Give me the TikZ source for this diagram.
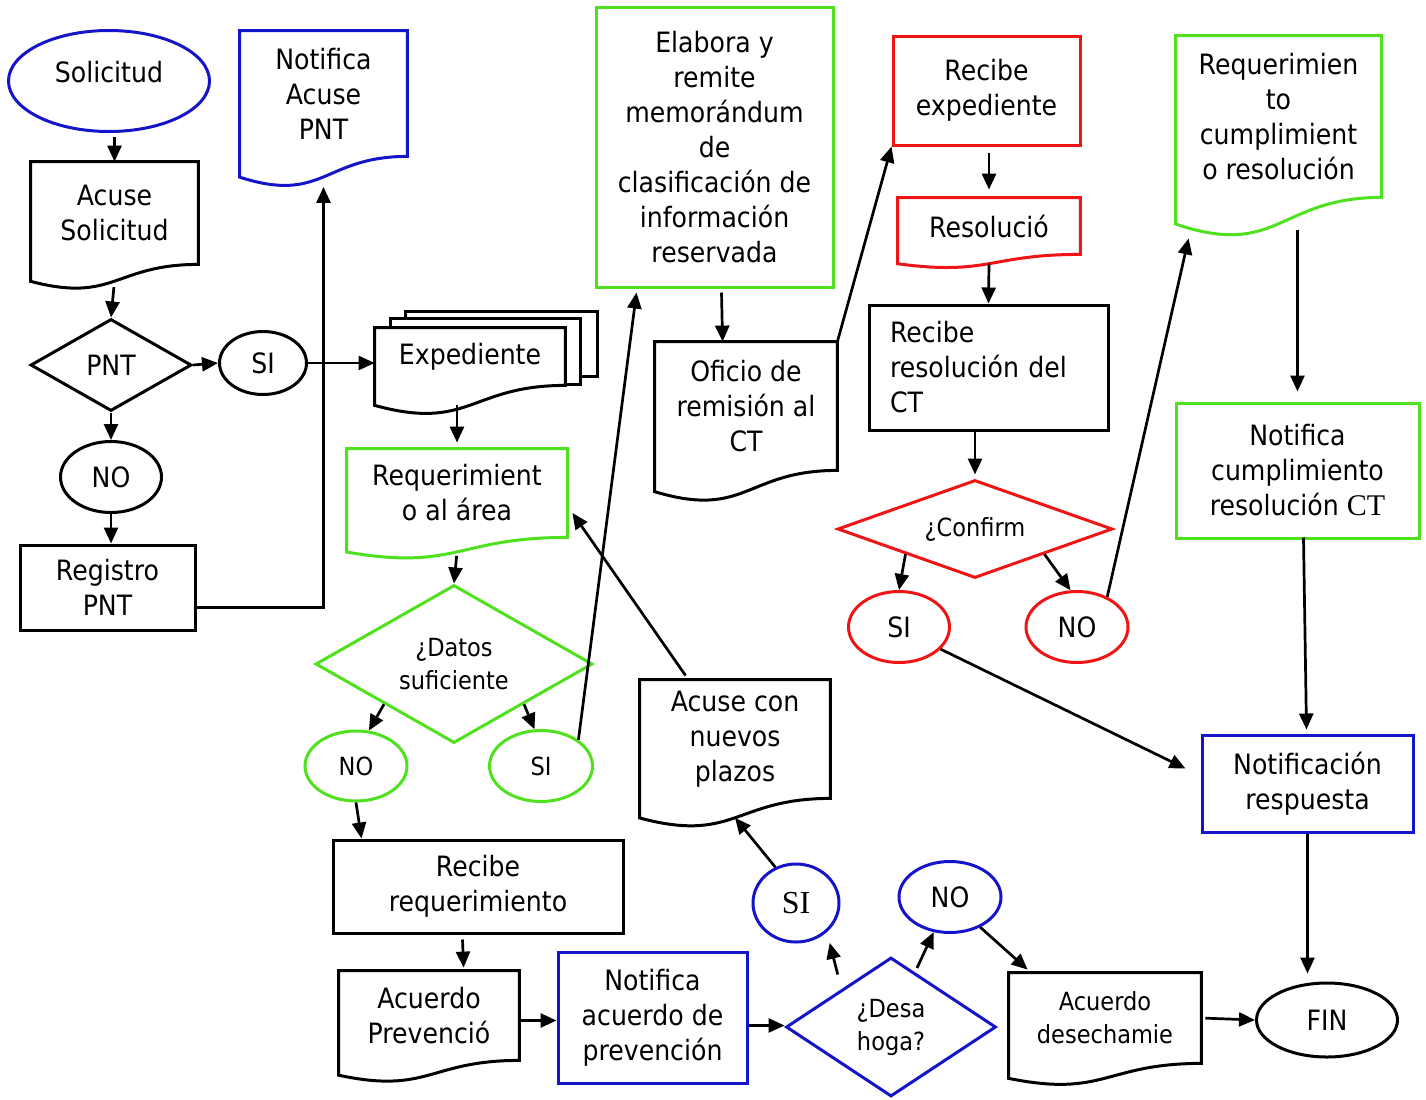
\documentclass[tikz,border=0pt]{standalone}
\usepackage{fontspec}
\setmainfont{DejaVu Sans}[FakeStretch=0.9]
\newfontfamily\tnr{Liberation Serif}
\usepackage{tikz}
\usetikzlibrary{shapes.geometric,arrows.meta,calc}
\usepackage{xcolor}
\definecolor{azul}{RGB}{20,20,200}
\definecolor{rojo}{RGB}{240,20,20}
\definecolor{verde}{RGB}{80,225,30}

\newcommand{\docshape}[3][1]{%
\draw[line width=1.5pt, draw=#3] (#2.north west) -- (#2.north east) -- (#2.south east)
  .. controls (#2.south) and ($(#2.north)!{1+0.380*#1}!(#2.south)$)
  .. ($(#2.north west)!{1+0.1646*#1}!(#2.south west)$) -- cycle;
\coordinate (#2-b) at ($(#2.north)!{1+0.163*#1}!(#2.south)$);
}

\begin{document}
\begin{tikzpicture}[x=0.5pt, y=-0.5pt,
  every node/.style={font=\fontsize{14}{17.5}\selectfont, align=center, inner sep=0pt},
  bx/.style={draw, rectangle, line width=1.5pt},
  ovl/.style={draw, ellipse, line width=1.5pt},
  rmb/.style={draw, diamond, line width=1.5pt, aspect=1.7},
  dc/.style={rectangle},
  sm/.style={font=\fontsize{12.5}{16.5}\selectfont},
  arr/.style={-{Triangle[length=8pt,width=7pt]}, line width=1.35pt}]
\useasboundingbox (0,0) rectangle (1426,1099);

\node[ovl, draw=azul, text depth=9pt, minimum width=100.5pt, minimum height=50.5pt] (sol) at (109,81) {Solicitud};
\node[dc, minimum width=83.5pt, minimum height=51pt] (acs) at (114.5,213) {Acuse\\Solicitud};
\node[dc, minimum width=83.5pt, minimum height=62.5pt] (nap) at (323.5,93.5) {Notifica\\Acuse\\PNT};
\node[rmb, minimum width=80.5pt, minimum height=46pt] (pnt) at (111,365) {PNT};
\node[ovl, minimum width=43.5pt, minimum height=31.5pt] (si1) at (263,363) {SI};
\node[ovl, minimum width=50.5pt, minimum height=35.5pt] (no1) at (111,477) {NO};
\node[bx, minimum width=87.5pt, minimum height=42.5pt] (reg) at (107.5,587.5) {Registro\\PNT};
\node[dc, minimum width=95pt, minimum height=28.5pt] (exp) at (470,356.5) {Expediente};
\node[dc, minimum width=110pt, minimum height=44pt] (req) at (457,493) {Requerimient\\o al área};
\node[rmb, sm, draw=verde, minimum width=138.5pt, minimum height=79pt] (dat) at (454,664) {¿Datos\\suficiente};
\node[ovl, sm, draw=verde, minimum width=51pt, minimum height=35pt] (no2) at (356,766) {NO};
\node[ovl, sm, draw=verde, minimum width=51.5pt, minimum height=35.5pt] (si2) at (541,766) {SI};
\node[bx, minimum width=145pt, minimum height=46.5pt] (rrq) at (478,886.5) {Recibe\\requerimiento};
\node[dc, minimum width=90pt, minimum height=44.5pt] (apv) at (429,1015.5) {Acuerdo\\Prevenció};
\node[bx, draw=azul, minimum width=94.5pt, minimum height=65.5pt] (nac) at (652.5,1017.5) {Notifica\\acuerdo de\\prevención};
\node[rmb, sm, draw=azul, minimum width=105pt, minimum height=69.5pt] (des) at (891,1027) {¿Desa\\hoga?};
\node[ovl, draw=azul, font=\tnr\fontsize{16}{18}\selectfont, minimum width=43pt, minimum height=39pt] (si3) at (796,903) {SI};
\node[ovl, draw=azul, minimum width=51pt, minimum height=35.5pt] (no3) at (950,897) {NO};
\node[dc, sm, minimum width=96pt, minimum height=45pt] (ads) at (1105,1018) {Acuerdo\\desechamie};
\node[ovl, minimum width=70.5pt, minimum height=37pt] (fin) at (1327,1020) {FIN};
\node[dc, minimum width=95pt, minimum height=59pt] (acn) at (735,739) {Acuse con\\nuevos\\plazos};
\node[bx, draw=verde, minimum width=118.5pt, minimum height=140pt] (ela) at (714.5,147) {Elabora y\\remite\\memorándum\\de\\clasificación de\\información\\reservada};
\node[dc, minimum width=91pt, minimum height=64pt] (ofi) at (746,406) {Oficio de\\remisión al\\CT};
\node[bx, draw=rojo, minimum width=93.5pt, minimum height=54.5pt] (rex) at (986.5,90.5) {Recibe\\expediente};
\node[dc, minimum width=91pt, minimum height=28pt] (res) at (989,226) {Resolució};
\node[bx, align=left, text width=98.5pt, inner xsep=10.5pt, minimum height=62.5pt] (rct) at (988.5,367.5) {Recibe\\resolución del\\CT};
\node[rmb, sm, draw=rojo, minimum width=137.5pt, minimum height=49pt] (cnf) at (975,529) {¿Confirm};
\node[ovl, draw=rojo, minimum width=50.5pt, minimum height=35.5pt] (si4) at (899,627) {SI};
\node[ovl, draw=rojo, minimum width=51pt, minimum height=35.5pt] (no4) at (1077,627) {NO};
\node[dc, minimum width=102.5pt, minimum height=80.5pt] (rcu) at (1278.5,116.5) {Requerimien\\to\\cumplimient\\o resolución};
\node[bx, draw=verde, minimum width=121.5pt, minimum height=67.5pt] (ncu) at (1297.5,470.5) {Notifica\\cumplimiento\\resolución {\tnr\fontsize{15}{17.5}\selectfont CT}};
\node[bx, draw=azul, minimum width=105.5pt, minimum height=48.5pt] (nre) at (1307.5,783.5) {Notificación\\respuesta};

\docshape{acs}{black}
\docshape{nap}{azul}
\docshape[2.1]{exp}{black}
\draw[line width=1.5pt] ($(exp.north west)+(16,0)$) -- ++(0,-9) -- ($(exp.north east)+(15,-9)$) -- ++(0,66) -- ++(-15,0);
\draw[line width=1.5pt] ($(exp.north west)+(31,-9)$) -- ++(0,-7) -- ($(exp.north east)+(32,-16)$) -- ++(0,65) -- ++(-17,0);
\docshape{req}{verde}
\docshape{apv}{black}
\docshape{ads}{black}
\docshape{acn}{black}
\docshape{ofi}{black}
\docshape{res}{rojo}
\docshape{rcu}{verde}

\coordinate (apv-e) at ($(apv.east)+(0,5)$);
\coordinate (nac-e) at ($(nac.east)+(0,8)$);

\draw[arr, shorten <=2pt] (acs.north |- sol.south) -- (acs.north);
\draw[arr, shorten <=3pt] (acs-b) -- (pnt.north);
\draw[arr] (pnt.east) -- (si1.west);
\draw[arr] (pnt.south) -- (no1.north);
\draw[arr] (no1.south) -- (no1.south |- reg.north);
\draw[arr, shorten >=5pt] ($(reg.east)+(0,20)$) -| (nap-b);
\draw[arr] (si1.east) -- (si1.east -| exp.west);
\draw[arr, shorten >=3pt] (exp-b -| req.north) -- (req.north);
\draw[arr, shorten <=2pt] (req-b) -- (dat.north);
\draw[arr] (dat.south west) -- (no2.70);
\draw[arr] (dat.south east) -- (si2.100);
\draw[arr] (si2.35) -- ($(ela.south west)+(42,4)$);
\draw[arr] (no2.south) -- ($(rrq.north west)+(30,0)$);
\draw[arr] ($(rrq.south west)+(131,5)$) -- ($(apv.north west)+(125,-3)$);
\draw[arr] (apv-e) -- (apv-e -| nac.west);
\draw[arr] (nac-e) -- (nac-e -| des.west);
\draw[arr] ($(des.north west)+(0,-17)$) -- ($(si3.-60)+(13,4)$);
\draw[arr] ($(des.north)+(26,12)$) -- (no3.-115);
\draw[arr] (si3.120) -- (acn-b);
\draw[arr] ($(acn.north west)+(46,-4)$) -- ($(req.east)+(5,20)$);
\draw[arr] (no3.-45) -- ($(ads.north west)+(19,-3)$);
\draw[arr, shorten <=2pt] (ads.east) -- (fin.west);
\draw[arr, shorten >=4pt] (nre.south) -- (nre.south |- fin.north);
\draw[arr] ($(ela.south west)+(127,4)$) -- ($(ofi.north west)+(68,0)$);
\draw[arr] (ofi.north east) -- (rex.south west);
\draw[arr, shorten <=3pt, shorten >=4pt] (rex.south -| res.north) -- (res.north);
\draw[arr] (res-b) -- (rct.north);
\draw[arr, shorten >=2pt] (rct.south -| cnf.north) -- (cnf.north);
\draw[arr] (cnf.south west) -- (si4.north);
\draw[arr] (cnf.south east) -- (no4.100);
\draw[arr] (no4.45) -- ($(rcu.south west)+(13,41)$);
\draw[arr] (si4.-28) -- ($(nre.west)+(-15,-15)$);
\draw[arr, shorten <=3pt, shorten >=5pt] (ncu.north |- rcu-b) -- (ncu.north);
\draw[arr] ($(ncu.south)+(6,-2)$) -- ($(nre.north)+(-1,-4)$);
\end{tikzpicture}
\end{document}
